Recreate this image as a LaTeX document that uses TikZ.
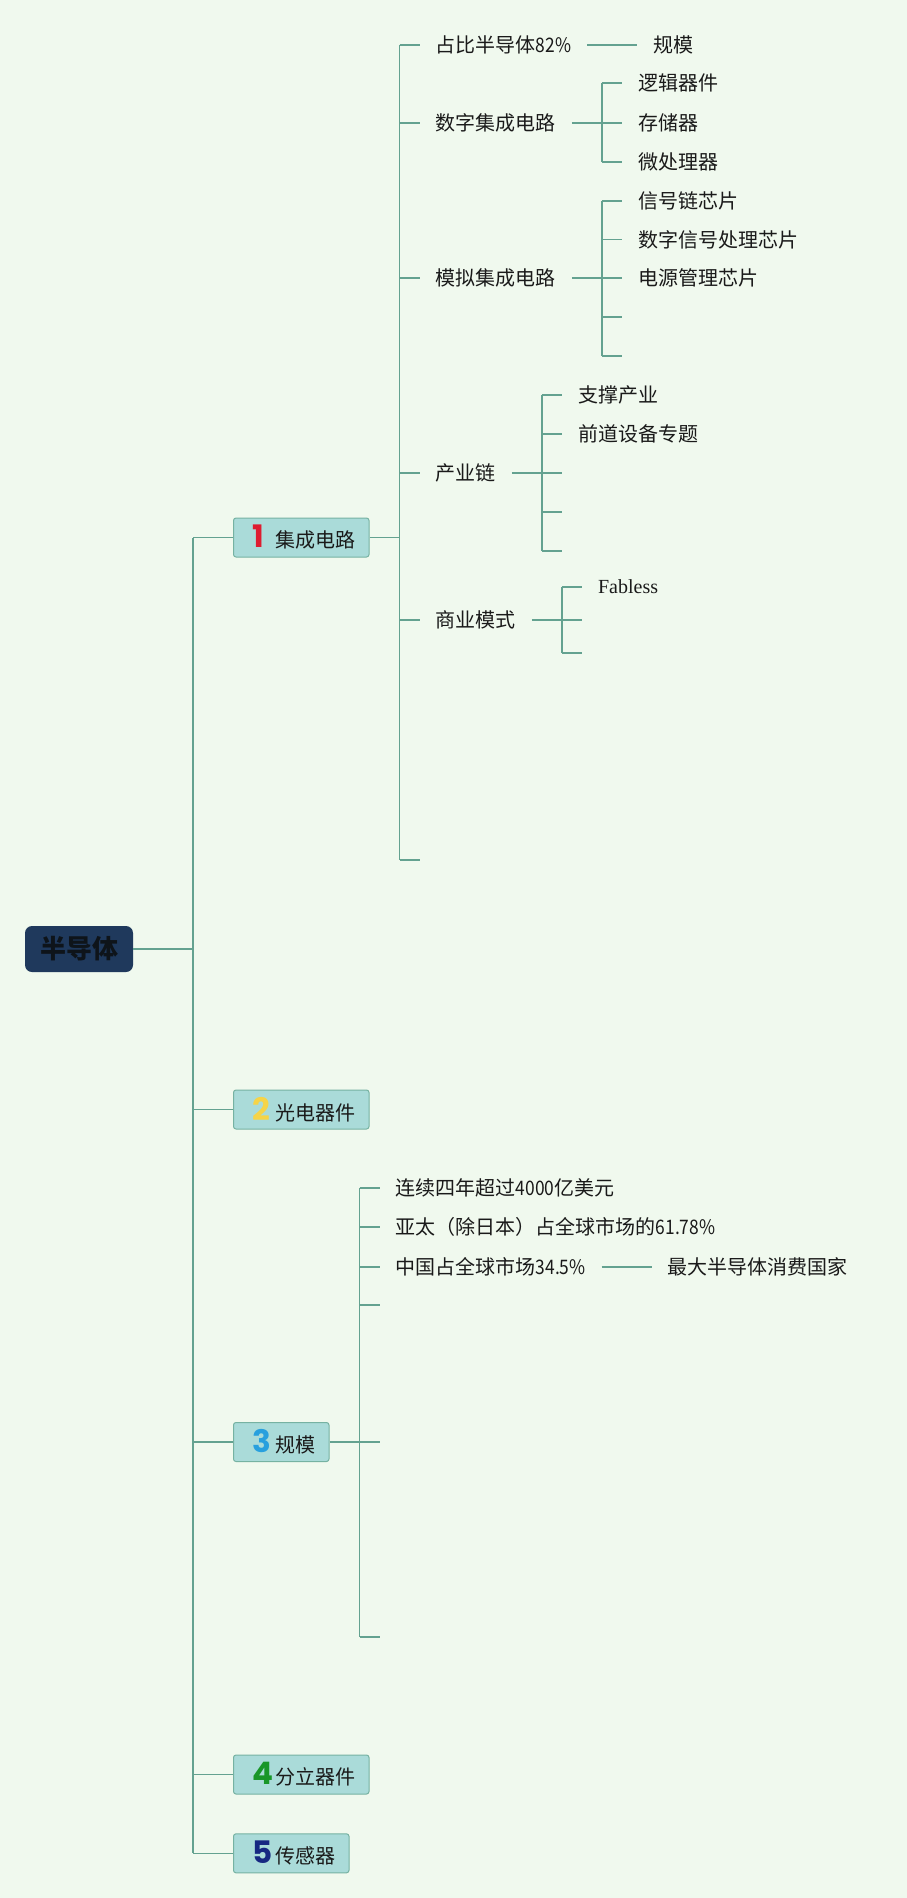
\documentclass[tikz,border=0pt]{standalone}
\usepackage{fontspec}
\newfontfamily\cjk{Noto Sans CJK SC}
\newfontfamily\latn[FakeStretch=0.87]{Noto Sans CJK SC}
\newfontfamily\digitfont{Poppins}
\newfontfamily\seriffont{Liberation Serif}
\definecolor{bg}{RGB}{240,249,238}
\definecolor{ln}{RGB}{100,162,144}
\definecolor{boxfill}{RGB}{170,219,217}
\definecolor{boxline}{RGB}{118,178,162}
\definecolor{navy}{RGB}{31,57,92}
\definecolor{dred}{RGB}{222,28,48}
\definecolor{dyel}{RGB}{246,212,72}
\definecolor{dblue}{RGB}{40,160,222}
\definecolor{dgreen}{RGB}{24,150,40}
\definecolor{dnavy}{RGB}{22,40,130}
\definecolor{txt}{RGB}{26,26,26}
\newcommand\boxlabel[3]{\rule{19pt}{0pt}\makebox[23pt][l]{\digitfont\bfseries\fontsize{31}{31}\selectfont\color{#1}#2}#3\rule{13.5pt}{0pt}}
\begin{document}
\begin{tikzpicture}[x=1pt,y=-1pt,
  conn/.style={draw=ln,line width=1.5pt},
  lvl/.style={draw=boxline,line width=1pt,fill=boxfill,rounded corners=2.5pt,anchor=west,
    minimum height=39pt,inner xsep=0pt,inner ysep=0pt,font=\cjk\fontsize{20}{24}\selectfont,text=txt},
  leaf/.style={anchor=west,inner sep=0pt,font=\cjk\fontsize{20}{24}\selectfont,text=txt},
  rootbox/.style={fill=navy,rounded corners=7pt,minimum width=108pt,minimum height=46pt,
    inner sep=0pt,font=\cjk\bfseries\fontsize{26}{30}\selectfont,text={rgb,255:red,14;green,20;blue,26}}]
\useasboundingbox (0,0) rectangle (907,1898);
\fill[bg] (0,0) rectangle (907,1898);

% root and first level
\node[rootbox] (root) at (79,949) {半导体};
\node[lvl] (b1) at (233,537.5) {\boxlabel{dred}{1}{集成电路}};
\node[lvl] (b2) at (233,1109.5) {\boxlabel{dyel}{2}{光电器件}};
\node[lvl] (b3) at (233,1442) {\boxlabel{dblue}{3}{规模}};
\node[lvl] (b4) at (233,1774.5) {\boxlabel{dgreen}{4}{分立器件}};
\node[lvl] (b5) at (233,1853.3) {\boxlabel{dnavy}{5}{传感器}};
\coordinate (tr) at (193,949);
\draw[conn] (root.east) -- (tr);
\draw[conn] (b1.west -| tr) -- (b5.west -| tr);
\foreach \n in {b1,b2,b3,b4,b5} \draw[conn] (\n.west -| tr) -- (\n.west);

% children of b1
\path (b1.east) ++(30,0) coordinate (v1) ++(36,0) coordinate (t1);
\node[leaf] (a1) at (t1 |- 0,45) {占比半导体{\latn 82\%}};
\node[leaf] (a2) at (t1 |- 0,123) {数字集成电路};
\node[leaf] (a3) at (t1 |- 0,278) {模拟集成电路};
\node[leaf] (a4) at (t1 |- 0,473) {产业链};
\node[leaf] (a5) at (t1 |- 0,620) {商业模式};
\coordinate (a6) at (t1 |- 0,860);
\draw[conn] (b1.east) -- (b1.east -| v1);
\draw[conn] (a1.west -| v1) -- (a6 -| v1);
\foreach \n in {a1,a2,a3,a4,a5} \draw[conn] (\n.west -| v1) -- ([xshift=-16pt]\n.west);
\draw[conn] (a6 -| v1) -- ([xshift=-16pt]a6);

% a1 -> 规模
\path (a1.east) ++(16,0) coordinate (a1s) ++(50,0) coordinate (a1e) ++(16,0) coordinate (a1t);
\node[leaf] (a11) at (a1t) {规模};
\draw[conn] (a1s) -- (a1e);

% a2 children
\path (a2.east) ++(16,0) coordinate (a2s) ++(30,0) coordinate (v2) ++(36,0) coordinate (t2);
\node[leaf] (a21) at (t2 |- 0,83) {逻辑器件};
\node[leaf] (a22) at (t2 |- 0,123) {存储器};
\node[leaf] (a23) at (t2 |- 0,162) {微处理器};
\draw[conn] (a2s) -- (v2);
\draw[conn] (a21.west -| v2) -- (a23.west -| v2);
\foreach \n in {a21,a22,a23} \draw[conn] (\n.west -| v2) -- ([xshift=-16pt]\n.west);

% a3 children
\path (a3.east) ++(16,0) coordinate (a3s) ++(30,0) coordinate (v3) ++(36,0) coordinate (t3);
\node[leaf] (a31) at (t3 |- 0,201) {信号链芯片};
\node[leaf] (a32) at (t3 |- 0,239.5) {数字信号处理芯片};
\node[leaf] (a33) at (t3 |- 0,278) {电源管理芯片};
\coordinate (a34) at (t3 |- 0,317);
\coordinate (a35) at (t3 |- 0,356);
\draw[conn] (a3s) -- (v3);
\draw[conn] (a31.west -| v3) -- (a35 -| v3);
\foreach \n in {a31,a32,a33} \draw[conn] (\n.west -| v3) -- ([xshift=-16pt]\n.west);
\foreach \n in {a34,a35} \draw[conn] (\n -| v3) -- ([xshift=-16pt]\n);

% a4 children
\path (a4.east) ++(16,0) coordinate (a4s) ++(30,0) coordinate (v4) ++(36,0) coordinate (t4);
\node[leaf] (a41) at (t4 |- 0,395) {支撑产业};
\node[leaf] (a42) at (t4 |- 0,434) {前道设备专题};
\coordinate (a43) at (t4 |- 0,473);
\coordinate (a44) at (t4 |- 0,512);
\coordinate (a45) at (t4 |- 0,551);
\draw[conn] (a4s) -- (v4);
\draw[conn] (a41.west -| v4) -- (a45 -| v4);
\foreach \n in {a41,a42} \draw[conn] (\n.west -| v4) -- ([xshift=-16pt]\n.west);
\foreach \n in {a43,a44,a45} \draw[conn] (\n -| v4) -- ([xshift=-16pt]\n);

% a5 children
\path (a5.east) ++(16,0) coordinate (a5s) ++(30,0) coordinate (v5) ++(36,0) coordinate (t5);
\node[leaf,font=\seriffont\fontsize{20}{24}\selectfont] (a51) at (t5 |- 0,587) {Fabless};
\coordinate (a52) at (t5 |- 0,620);
\coordinate (a53) at (t5 |- 0,653);
\draw[conn] (a5s) -- (v5);
\draw[conn] (a51.west -| v5) -- (a53 -| v5);
\draw[conn] (a51.west -| v5) -- ([xshift=-16pt]a51.west);
\foreach \n in {a52,a53} \draw[conn] (\n -| v5) -- ([xshift=-16pt]\n);

% children of b3
\path (b3.east) ++(30,0) coordinate (w3) ++(36,0) coordinate (s3);
\node[leaf] (d1) at (s3 |- 0,1188) {连续四年超过{\latn 4000}亿美元};
\node[leaf] (d2) at (s3 |- 0,1227) {亚太（除日本）占全球市场的{\latn 61.78\%}};
\node[leaf] (d3) at (s3 |- 0,1267) {中国占全球市场{\latn 34.5\%}};
\coordinate (d4) at (s3 |- 0,1305);
\coordinate (d5) at (s3 |- 0,1442);
\coordinate (d6) at (s3 |- 0,1637);
\draw[conn] (b3.east) -- (b3.east -| w3);
\draw[conn] (d1.west -| w3) -- (d6 -| w3);
\foreach \n in {d1,d2,d3} \draw[conn] (\n.west -| w3) -- ([xshift=-16pt]\n.west);
\foreach \n in {d4,d5,d6} \draw[conn] (\n -| w3) -- ([xshift=-16pt]\n);

% d3 -> 最大半导体消费国家
\path (d3.east) ++(16,0) coordinate (d3s) ++(50,0) coordinate (d3e) ++(16,0) coordinate (d3t);
\node[leaf] (d31) at (d3t) {最大半导体消费国家};
\draw[conn] (d3s) -- (d3e);
\end{tikzpicture}
\end{document}
